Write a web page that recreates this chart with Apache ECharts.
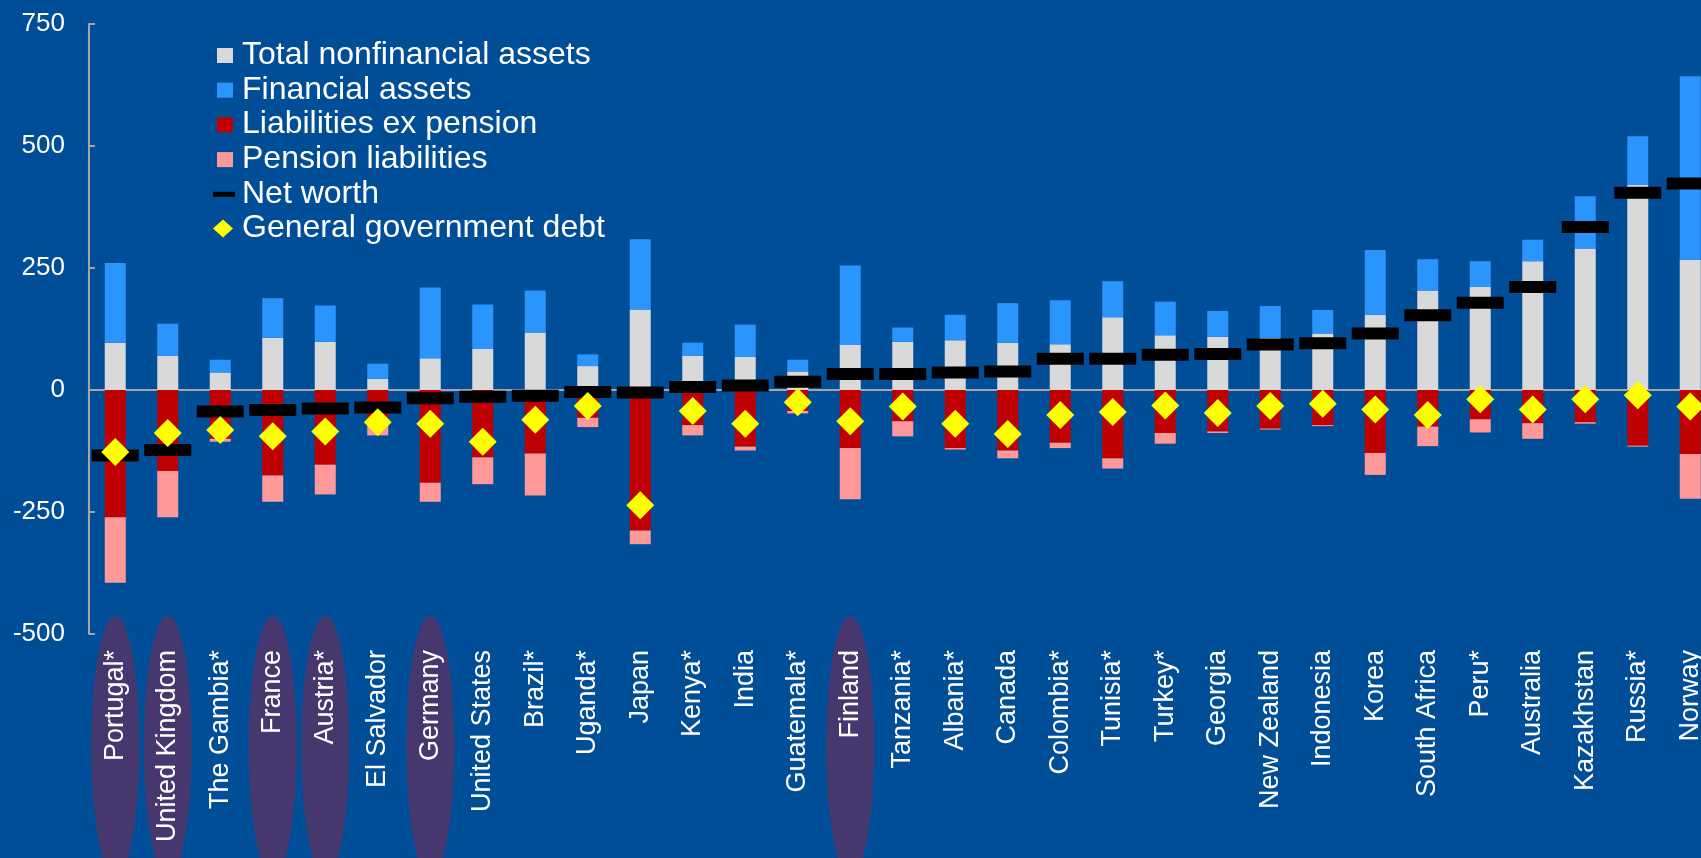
<!DOCTYPE html>
<html>
<head>
<meta charset="utf-8">
<script src="https://cdn.jsdelivr.net/npm/echarts@6/dist/echarts.min.js"></script>
<style>
    html, body {margin: 0; padding: 0; background: #004E98;}
    #chart {width: 1701px; height: 858px;}
</style>
</head>
<body>
<div id="chart"></div>
<script>
const countries = ['Portugal*', 'United Kingdom', 'The Gambia*', 'France', 'Austria*', 'El Salvador', 'Germany',
    'United States', 'Brazil*', 'Uganda*', 'Japan', 'Kenya*', 'India', 'Guatemala*', 'Finland', 'Tanzania*',
    'Albania*', 'Canada', 'Colombia*', 'Tunisia*', 'Turkey*', 'Georgia', 'New Zealand', 'Indonesia', 'Korea',
    'South Africa', 'Peru*', 'Australia', 'Kazakhstan', 'Russia*', 'Norway'];

// stacked pieces, % of GDP
const nonfinancial = [97, 70, 36, 107, 99, 23, 65, 84, 118, 49, 165, 70, 68, 38, 92, 99,
    102, 97, 94, 149, 112, 109, 107, 116, 154, 204, 211, 264, 290, 420, 267];
const financial = [163, 66, 26, 81, 74, 31, 145, 91, 86, 24, 144, 27, 66, 24, 163, 29,
    52, 81, 90, 74, 69, 53, 65, 48, 133, 64, 53, 44, 107, 100, 376];
const liabilities = [-261, -166, -100, -175, -153, -74, -190, -138, -130, -57, -288, -72, -116, -43, -119, -64,
    -119, -124, -108, -140, -88, -85, -79, -72, -129, -75, -60, -68, -66, -114, -131];
const pension = [-134, -95, -6, -54, -61, -19, -39, -55, -86, -19, -28, -21, -8, -5, -105, -31,
    -3, -16, -11, -21, -22, -3, -2, -2, -45, -40, -27, -32, -3, -2, -92];
const net_worth = [-134, -123, -44, -41, -38, -36, -17, -14, -12, -4, -5, 6, 9, 17, 33, 33,
    36, 38, 64, 64, 72, 74, 93, 96, 116, 153, 179, 211, 334, 404, 423];
const gov_debt = [-127, -88, -82, -95, -85, -66, -69, -106, -61, -33, -236, -43, -69, -25, -64, -34,
    -69, -90, -51, -45, -32, -47, -33, -28, -40, -51, -19, -40, -19, -11, -34];

const y_ticks = {min: -500, max: 750, interval: 250};
const highlighted = ['Portugal*', 'United Kingdom', 'France', 'Austria*', 'Germany', 'Finland'];

const FONT = '"Liberation Sans", Arial, sans-serif';
const AXIS_GREY = '#A6A6A6';

// legend icons: the leading M points fix the bounding box so shapes keep their size
const ICON_SQUARE = 'path://M0,0M24,18M4,2h16v15H4z';
const ICON_DASH = 'path://M0,0M24,18M0,7h22v5H0z';
const ICON_DIAMOND = 'path://M0,0M24,18M0,9L10,0L20,9L10,18z';

function bar_series(name, data, color) {
    return {
        name: name, type: 'bar', stack: 'bs', data: data,
        barWidth: 21,
        itemStyle: {color: color},
        emphasis: {disabled: true}
    };
}

function build_option() {
    return {
        backgroundColor: '#004E98',
        animation: false,
        textStyle: {fontFamily: FONT},
        grid: {left: 89, top: 24, width: 1627.5, height: 610, outerBoundsMode: 'none', containLabel: false},
        legend: {
            orient: 'vertical', left: 208, top: 34,
            itemWidth: 24, itemHeight: 18, itemGap: 2.7,
            textStyle: {color: '#fff', fontSize: 32, lineHeight: 32, fontFamily: FONT},
            data: [
                {name: 'Total nonfinancial assets', icon: ICON_SQUARE},
                {name: 'Financial assets', icon: ICON_SQUARE},
                {name: 'Liabilities ex pension', icon: ICON_SQUARE},
                {name: 'Pension liabilities', icon: ICON_SQUARE},
                {name: 'Net worth', icon: ICON_DASH},
                {name: 'General government debt', icon: ICON_DIAMOND}
            ]
        },
        xAxis: [
            {
                type: 'category', data: countries, position: 'bottom', z: 5,
                axisLine: {show: false, onZero: false},
                axisTick: {show: false},
                axisLabel: {
                    interval: 0, rotate: 90, margin: 16,
                    color: '#fff', fontSize: 27, fontFamily: FONT
                }
            },
            {
                type: 'category', data: countries, position: 'bottom',
                axisLine: {onZero: true, lineStyle: {color: AXIS_GREY, width: 2}},
                axisTick: {inside: true, length: 8, lineStyle: {color: AXIS_GREY, width: 2}},
                axisLabel: {show: false}
            }
        ],
        yAxis: {
            type: 'value', min: y_ticks.min, max: y_ticks.max, interval: y_ticks.interval,
            splitLine: {show: false},
            axisLine: {show: true, lineStyle: {color: AXIS_GREY, width: 2}},
            axisTick: {show: true, inside: true, length: 6, lineStyle: {color: AXIS_GREY, width: 2}},
            axisLabel: {color: '#fff', fontSize: 26, margin: 24, fontFamily: FONT}
        },
        series: [
            bar_series('Total nonfinancial assets', nonfinancial, '#D9D9D9'),
            bar_series('Financial assets', financial, '#2B95FF'),
            bar_series('Liabilities ex pension', liabilities, '#C00000'),
            bar_series('Pension liabilities', pension, '#FF9999'),
            {
                name: 'Net worth', type: 'scatter', data: net_worth, z: 3,
                symbol: 'rect', symbolSize: [47, 12],
                itemStyle: {color: '#000', opacity: 1},
                emphasis: {disabled: true}
            },
            {
                name: 'General government debt', type: 'scatter', data: gov_debt, z: 4,
                symbol: 'diamond', symbolSize: [28, 28],
                itemStyle: {color: '#FFFF00', opacity: 1},
                emphasis: {disabled: true}
            }
        ]
    };
}

// purple ovals behind some country labels
function build_ovals(chart) {
    let base_y = chart.convertToPixel({yAxisIndex: 0}, y_ticks.min);
    return highlighted.map(function (name) {
        let x = chart.convertToPixel({xAxisIndex: 0}, name);
        return {
            type: 'circle', z: -1, silent: true,
            x: x, y: base_y + 112,
            scaleY: 130 / 24,
            shape: {cx: 0, cy: 0, r: 24},
            style: {fill: '#46386E'}
        };
    });
}

let e = document.getElementById('chart');
let chart = echarts.init(e, null, {renderer: 'canvas'});
chart.setOption(build_option());
chart.setOption({graphic: build_ovals(chart)});
window.addEventListener('resize', function () {
    chart.resize();
    chart.setOption({graphic: build_ovals(chart)});
});
</script>
</body>
</html>
